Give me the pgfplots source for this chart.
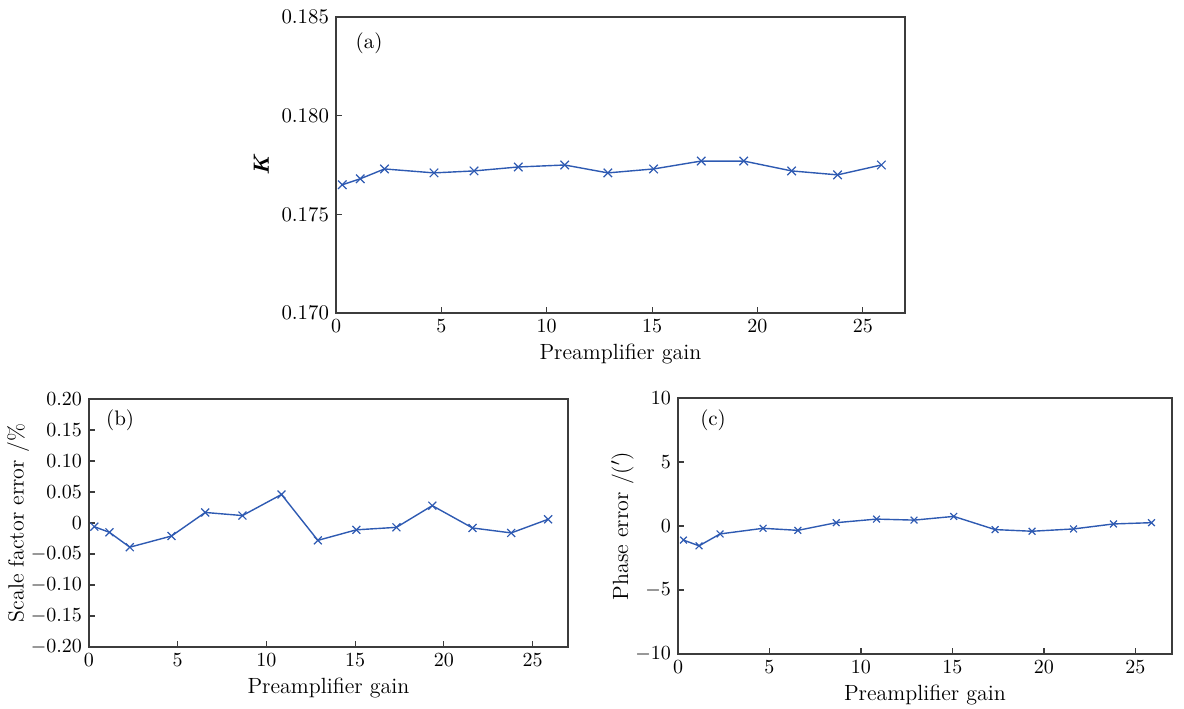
\documentclass[border=0pt]{standalone}
\usepackage{pgfplots}
\pgfplotsset{compat=1.18}
\definecolor{lineblue}{RGB}{46,90,178}
\definecolor{framegray}{RGB}{60,60,60}
\pgfplotsset{
  panel/.style={
    scale only axis,
    anchor=south west,
    xmin=0, xmax=27,
    xtick={0,5,10,15,20,25},
    tick align=inside,
    xtick pos=bottom, ytick pos=left,
    major tick length=3pt,
    axis line style={framegray, line width=0.6pt},
    every tick/.style={framegray, line width=0.6pt},
    xlabel={Preamplifier gain},
    xlabel style={yshift=1.5pt},
    tick label style={font=\fontsize{10.4}{12}\selectfont},
    label style={font=\fontsize{11}{13}\selectfont},
  },
  series/.style={color=lineblue, line width=0.7pt, mark=x, mark options={line width=0.6pt}},
}
\begin{document}
\begin{tikzpicture}
\path[use as bounding box] (0,0) rectangle (592pt,354pt);

% (a)
\begin{axis}[panel, at={(168pt,197.5pt)}, width=284.5pt, height=148pt,
  ymin=0.170, ymax=0.185, ytick={0.170,0.175,0.180,0.185},
  yticklabels={0.170,0.175,0.180,0.185},
  ylabel style={yshift=-0.5pt},
  ylabel={\textbf{\textit{K}}}]
\addplot[series, mark size=3pt] coordinates {
(0.3,0.1765) (1.15,0.1768) (2.3,0.1773) (4.65,0.1771) (6.55,0.1772)
(8.65,0.1774) (10.85,0.1775) (12.9,0.1771) (15.07,0.1773) (17.33,0.1777)
(19.35,0.1777) (21.62,0.1772) (23.8,0.1770) (25.88,0.1775)};
\node[font=\fontsize{10.5}{12}\selectfont] at (rel axis cs:0.058,0.912) {(a)};
\end{axis}

% (b)
\begin{axis}[panel, at={(44.5pt,30.5pt)}, width=239.5pt, height=124pt,
  ymin=-0.2, ymax=0.2, ytick={-0.2,-0.15,-0.1,-0.05,0,0.05,0.1,0.15,0.2},
  yticklabels={$-0.20$,$-0.15$,$-0.10$,$-0.05$,$0$,$0.05$,$0.10$,$0.15$,$0.20$},
  ylabel style={yshift=-6pt},
  ylabel={Scale factor error /\%}]
\addplot[series, mark size=2.8pt] coordinates {
(0.3,-0.006) (1.15,-0.015) (2.3,-0.039) (4.65,-0.021) (6.55,0.017)
(8.65,0.012) (10.85,0.046) (12.9,-0.028) (15.07,-0.011) (17.33,-0.007)
(19.35,0.028) (21.62,-0.008) (23.8,-0.016) (25.88,0.006)};
\node[font=\fontsize{10.5}{12}\selectfont] at (rel axis cs:0.065,0.915) {(b)};
\end{axis}

% (c)
\begin{axis}[panel, at={(339pt,27pt)}, width=247pt, height=128pt,
  ymin=-10, ymax=10, ytick={-10,-5,0,5,10},
  ylabel style={yshift=-6pt},
  ylabel={Phase error /($'$)}]
\addplot[series, mark size=2.4pt] coordinates {
(0.3,-1.1) (1.15,-1.55) (2.3,-0.62) (4.65,-0.18) (6.55,-0.34)
(8.65,0.26) (10.85,0.54) (12.9,0.46) (15.07,0.75) (17.33,-0.28)
(19.35,-0.41) (21.62,-0.23) (23.8,0.16) (25.88,0.26)};
\node[font=\fontsize{10.5}{12}\selectfont] at (rel axis cs:0.071,0.914) {(c)};
\end{axis}
\end{tikzpicture}
\end{document}
